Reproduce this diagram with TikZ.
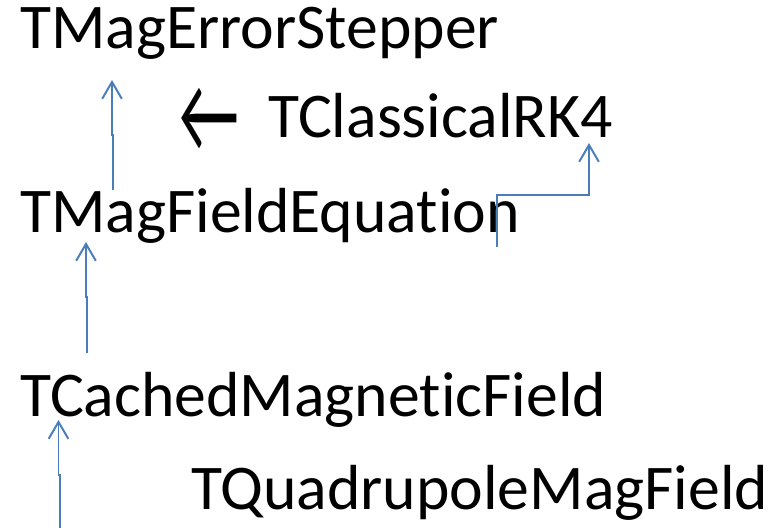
\documentclass[tikz,border=0pt]{standalone}
\usepackage{fontspec}
\setmainfont{Carlito}[Ligatures=NoCommon]
\usetikzlibrary{arrows.meta}

\tikzset{
  classname/.style={anchor=base west, inner sep=0pt, font=\fontsize{45.3}{50}\selectfont},
  inherit/.style={draw={rgb,255:red,74;green,126;blue,187}, line width=1.4pt,
    -{Straight Barb[length=12pt,width=14pt,line width=1.4pt]}}
}

\begin{document}
\begin{tikzpicture}[scale=0.5]
    \useasboundingbox (0,0) rectangle (39.2,26.4);

    % CLASSES
    \node[classname] (err) at (1.0,23.95) {TMagErrorStepper};
    \node[classname] (rk4) at (13.4,19.5) {TClassicalRK4};
    \node[classname] (eqn) at (1.0,14.75) {TMagFieldEquation};
    \node[classname] (cached) at (1.0,5.55) {TCachedMagneticField};
    \node[classname] (quad) at (9.55,0.9) {TQuadrupoleMagField};

    % Fletxa negra (text)
    \node[font=\fontsize{47}{50}\selectfont, inner sep=0pt, yscale=1.7] (larrow) at (10.45,20.4) {←};

    % PUNTS D'ANCORATGE DELS CONNECTORS
    \coordinate (eqn-up) at (5.65,16.9);
    \coordinate (err-down) at (5.6,22.4);
    \coordinate (eqn-right) at (24.85,14.05);
    \coordinate (rk4-down) at (29.45,19.25);
    \coordinate (cached-up) at (4.35,8.75);
    \coordinate (eqn-down) at (4.3,14.3);
    \coordinate (quad-edge) at (3.0,0);
    \coordinate (cached-down) at (2.925,5.4);

    % HERÈNCIA (connectors blaus)
    \draw[inherit] (eqn-up) -- (5.65,19.65) -- (5.6,19.65) -- (err-down);
    \draw[inherit] (eqn-right) -- (24.85,16.65) -| (rk4-down);
    \draw[inherit] (cached-up) -- (4.35,11.55) -- (4.3,11.55) -- (eqn-down);
    \draw[inherit] (quad-edge) -- (3.0,2.65) -- (2.925,2.65) -- (cached-down);

\end{tikzpicture}
\end{document}
